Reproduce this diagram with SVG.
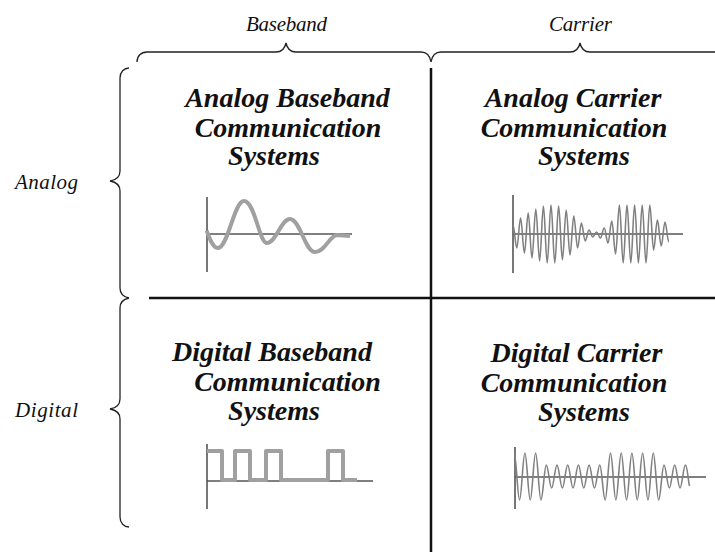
<svg xmlns="http://www.w3.org/2000/svg" width="715" height="552" viewBox="0 0 715 552">
<style>
.title{font-family:"Liberation Serif","DejaVu Serif",serif;font-weight:bold;font-style:italic;font-size:28px;fill:#111;text-anchor:middle}
.lab{font-family:"Liberation Serif","DejaVu Serif",serif;font-style:italic;font-size:21px;fill:#111;text-anchor:middle}
.brace{fill:none;stroke:#222;stroke-width:1.3}
.div{fill:none;stroke:#111;stroke-width:2.5}
.axis{fill:none;stroke:#555;stroke-width:1.6}
.thick{fill:none;stroke:#a0a0a0;stroke-width:4;stroke-linejoin:round}
.thin{fill:none;stroke:#808080;stroke-width:1.6}
</style>
<rect width="715" height="552" fill="#fff"/>
<g id="connectors">
<path class="brace" d="M137,62 C137,56 141,52 147,52 L276,52 C282,52 285,48 286,43 C287,48 290,52 296,52 L421,52 C427,52 430,56 431,62 C432,56 435,52 441,52 L570,52 C576,52 579,48 580,43 C581,48 584,52 590,52 L715,52"/>
<path class="brace" d="M129,68 C124,68 120,72 120,78 L120,171 C120,177 116,180 110,181 C116,182 120,185 120,191 L120,288 C120,294 124,297 129,298 C124,299 120,302 120,308 L120,399 C120,405 116,408 110,409 C116,410 120,413 120,419 L120,517 C120,523 124,527 129,527"/>
<line class="div" x1="431" y1="68" x2="431" y2="552"/>
<line class="div" x1="149" y1="298" x2="715" y2="298"/>
</g>
<g id="labels">
<text class="lab" x="286.5" y="31" textLength="81">Baseband</text>
<text class="lab" x="580.5" y="31" textLength="63">Carrier</text>
<text class="lab" x="46.5" y="189" textLength="63">Analog</text>
<text class="lab" x="46.5" y="417" textLength="63">Digital</text>
</g>
<g id="analog-baseband">
<text class="title" x="287.5" y="107">Analog Baseband</text>
<text class="title" x="288" y="137">Communication</text>
<text class="title" x="274" y="165">Systems</text>
<line class="axis" x1="207" y1="197" x2="207" y2="272"/>
<line class="axis" x1="207" y1="234" x2="352" y2="234"/>
<path class="thick" d="M206.7,230.7 C210,240 213,248 218,248 C228,248 234,201 244,201 C255,201 259,243 267,243 C276,243 281,219 290,219 C300,219 305,252 315,252 C325,252 330,235 337,235 L350,236"/>
</g>
<g id="analog-carrier">
<text class="title" x="573" y="107">Analog Carrier</text>
<text class="title" x="574" y="137">Communication</text>
<text class="title" x="584" y="165">Systems</text>
<line class="axis" x1="513" y1="195" x2="513" y2="273"/>
<line class="axis" x1="513" y1="234" x2="683" y2="234"/>
<path class="thin" d="M513,225 C514.4,225 515.4,248 516.8,248 S519.2,218 520.6,218 S523,253 524.4,253 S526.8,213 528.2,213 S530.6,258 532,258 S534.4,209 535.8,209 S538.2,261 539.6,261 S542,206 543.4,206 S545.8,263 547.2,263 S549.6,205 551,205 S553.4,263 554.8,263 S557.2,206 558.6,206 S561,260 562.4,260 S564.8,210 566.2,210 S568.6,255 570,255 S572.4,216 573.8,216 S576.2,248 577.6,248 S580,223 581.4,223 S583.8,241 585.2,241 S587.6,230 589,230 S591.4,237 592.8,237 S595.2,232 596.6,232 S599,238 600.4,238 S602.8,228 604.2,228 S606.6,243 608,243 S610.4,221 611.8,221 S614.2,254 615.6,254 S618,205 619.4,205 S621.8,263 623.2,263 S625.6,205 627,205 S629.4,263 630.8,263 S633.2,205 634.6,205 S637,263 638.4,263 S640.8,205 642.2,205 S644.6,263 646,263 S648.4,205 649.8,205 S652.2,250 653.6,250 S656,220 657.4,220 S659.8,246 661.2,246 S663.6,222 665,222 S667.4,242 668.8,242"/>
</g>
<g id="digital-baseband">
<text class="title" x="272" y="361">Digital Baseband</text>
<text class="title" x="287.5" y="391">Communication</text>
<text class="title" x="274" y="420">Systems</text>
<line class="axis" x1="207" y1="444" x2="207" y2="509"/>
<line class="axis" x1="207" y1="481" x2="373" y2="481"/>
<path class="thick" d="M207,451 H222 V480 H235 V451 H250 V480 H266 V451 H281 V480 H328 V451 H343 V480 H357"/>
</g>
<g id="digital-carrier">
<text class="title" x="576.5" y="362">Digital Carrier</text>
<text class="title" x="574" y="392">Communication</text>
<text class="title" x="584" y="421">Systems</text>
<line class="axis" x1="515" y1="447" x2="515" y2="509"/>
<line class="axis" x1="515" y1="477" x2="706" y2="477"/>
<path class="thin" d="M514.2,453 C516.15,453 517.6,500 519.55,500 S522.95,453 524.9,453 S528.3,500 530.25,500 S533.65,453 535.6,453 S539,500 540.95,500 S544.35,465 546.3,465 S549.7,488 551.65,488 S555.05,465 557,465 S560.4,488 562.35,488 S565.75,465 567.7,465 S571.1,488 573.05,488 S576.45,465 578.4,465 S581.8,488 583.75,488 S587.15,465 589.1,465 S592.5,488 594.45,488 S597.85,465 599.8,465 S603.2,500 605.15,500 S608.55,453 610.5,453 S613.9,500 615.85,500 S619.25,453 621.2,453 S624.6,500 626.55,500 S629.95,453 631.9,453 S635.3,500 637.25,500 S640.65,453 642.6,453 S646,500 647.95,500 S651.35,453 653.3,453 S656.7,500 658.65,500 S662.05,465 664,465 S667.4,488 669.35,488 S672.75,465 674.7,465 S678.1,488 680.05,488 S683.45,465 685.4,465 S688,480 689.5,486"/>
</g>
</svg>
